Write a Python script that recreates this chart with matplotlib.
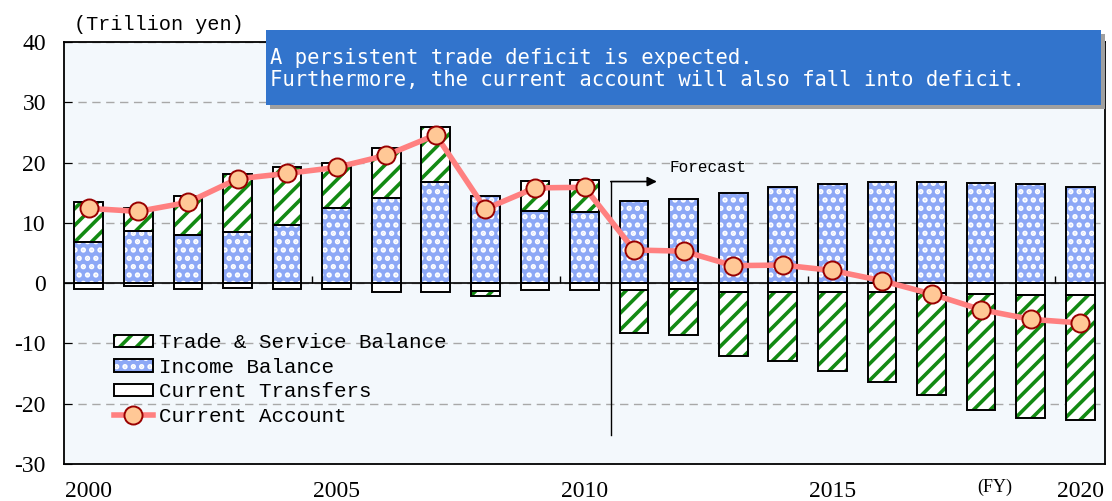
import numpy as np
import matplotlib.pyplot as plt
from matplotlib.patches import Rectangle
from matplotlib.lines import Line2D

years = list(range(2000, 2021))
trade = [6.5, 3.8, 6.4, 9.6, 9.6, 7.5, 8.3, 9.2, -0.9, 4.9, 5.3,
         -7.0, -7.7, -10.7, -11.4, -12.95, -14.85, -16.85, -19.3, -20.4, -20.75]
income = [6.9, 8.7, 8.0, 8.5, 9.6, 12.5, 14.1, 16.7, 14.5, 12.0, 11.8,
          13.6, 13.9, 14.9, 16.0, 16.5, 16.7, 16.7, 16.6, 16.4, 16.0]
transfers = [-0.95, -0.55, -0.95, -0.85, -0.95, -0.95, -1.4, -1.4, -1.3, -1.1, -1.1,
             -1.2, -0.9, -1.4, -1.5, -1.55, -1.55, -1.65, -1.8, -1.9, -1.95]
current = [12.4, 11.9, 13.4, 17.3, 18.2, 19.2, 21.2, 24.6, 12.3, 15.8, 15.9,
           5.5, 5.3, 2.9, 3.0, 2.1, 0.4, -1.8, -4.4, -6.0, -6.6]
xlabels = ['2000', '2005', '2010', '2015', '2020']
yticks = [-30, -20, -10, 0, 10, 20, 30, 40]

green = '#138A13'
blue = '#8DA8F6'
plt.rcParams['hatch.linewidth'] = 2.6

x = np.arange(len(years))
trade = np.array(trade)
income = np.array(income)
transfers = np.array(transfers)
trade_bottom = np.where(trade >= 0, income, transfers)
w = 0.58

fig = plt.figure(figsize=(11.12, 5.01), dpi=100)
ax = fig.add_axes([64/1112, 37/501, 1041/1112, 422/501])
ax.set_facecolor('#F3F8FC')

# income
ax.bar(x, income, w, color=blue, edgecolor='white', hatch='..', lw=0, zorder=2)
ax.bar(x, income, w, fill=False, edgecolor='black', lw=1.4, zorder=3)
# transfers
ax.bar(x, transfers, w, color='white', edgecolor='black', lw=1.4, zorder=3)
# trade
ax.bar(x, trade, w, bottom=trade_bottom, color='white', edgecolor=green,
       hatch='//', lw=0, zorder=2)
ax.bar(x, trade, w, bottom=trade_bottom, fill=False, edgecolor='black', lw=1.4, zorder=3)

ax.plot(x, current, color='#FF8080', lw=4, marker='o', ms=13, mfc='#FFC896',
        mec='#990000', mew=1.4, zorder=5)

ax.axhline(0, color='black', lw=1.2, zorder=4)
# small ticks on the zero line every five years
ax.vlines(x[4::5] + 0.5, 0, 1.2, color='black', lw=1, zorder=4)

ax.set_xlim(-0.5, len(years) - 0.5)
ax.set_ylim(-30, 40)
ax.set_yticks(yticks)
ax.set_yticklabels([str(v) for v in yticks], family='Liberation Serif', fontsize=17)
ax.set_xticks(x[::5])
ax.set_xticklabels(xlabels, family='Liberation Serif', fontsize=17)
ax.tick_params(axis='y', direction='in', length=6, pad=13)
ax.tick_params(axis='x', length=0, pad=12)
ax.set_axisbelow(True)
ax.yaxis.grid(True, ls=(0, (6, 4)), color='#A8A8A8', lw=1)
for s in ax.spines.values():
    s.set_linewidth(1.3)

# forecast marker
ax.plot([10.53, 10.53], [-25.2, 16.85], color='black', lw=1, zorder=4)
ax.annotate('', xy=(11.46, 16.85), xytext=(10.53, 16.85),
            arrowprops=dict(arrowstyle='-|>', color='black', lw=1.2,
                            mutation_scale=14, shrinkA=0, shrinkB=0), zorder=4)
ax.text(11.72, 19.2, 'Forecast', family='Liberation Mono', fontsize=11.5,
        va='center', ha='left')

ax.text(0.894, -0.055, '(FY)', transform=ax.transAxes, family='Liberation Serif',
        fontsize=13, ha='center', va='center')

fig.text(74/1112, 1 - 25/501, '(Trillion yen)', family='Liberation Mono',
         fontsize=14.5, ha='left', va='center')

# legend
handles = [
    (Rectangle((0, 0), 1, 1, facecolor='white', edgecolor=green, hatch='//', lw=0),
     Rectangle((0, 0), 1, 1, fill=False, edgecolor='black', lw=1.4)),
    (Rectangle((0, 0), 1, 1, facecolor=blue, edgecolor='white', hatch='..', lw=0),
     Rectangle((0, 0), 1, 1, fill=False, edgecolor='black', lw=1.4)),
    Rectangle((0, 0), 1, 1, facecolor='white', edgecolor='black', lw=1.4),
    Line2D([], [], color='#FF8080', lw=4, marker='o', ms=13, mfc='#FFC896',
           mec='#990000', mew=1.4),
]
labels = ['Trade & Service Balance', 'Income Balance', 'Current Transfers', 'Current Account']
leg = ax.legend(handles, labels, loc='upper left', bbox_to_anchor=(0.048, 0.31),
                frameon=False, prop={'family': 'Liberation Mono', 'size': 15},
                handlelength=1.85, handleheight=0.55, handletextpad=0.3,
                labelspacing=0.27, borderpad=0, borderaxespad=0)

# comment box
bx, by, bw, bh = 266/1112, 1 - 105/501, 835/1112, 75/501
fig.patches.append(Rectangle((bx + 4/1112, by - 4/501), bw, bh, transform=fig.transFigure,
                             facecolor='#A0A0A0', edgecolor='none', zorder=10))
fig.patches.append(Rectangle((bx, by), bw, bh, transform=fig.transFigure,
                             facecolor='#3274CC', edgecolor='none', zorder=11))
fig.text(270/1112, 1 - 69/501, 'A persistent trade deficit is expected.\n'
         'Furthermore, the current account will also fall into deficit.',
         family='DejaVu Sans Mono', fontsize=14.8, color='white', ha='left',
         va='center', linespacing=1.17, zorder=12)

fig.savefig('out.png', dpi=100)
